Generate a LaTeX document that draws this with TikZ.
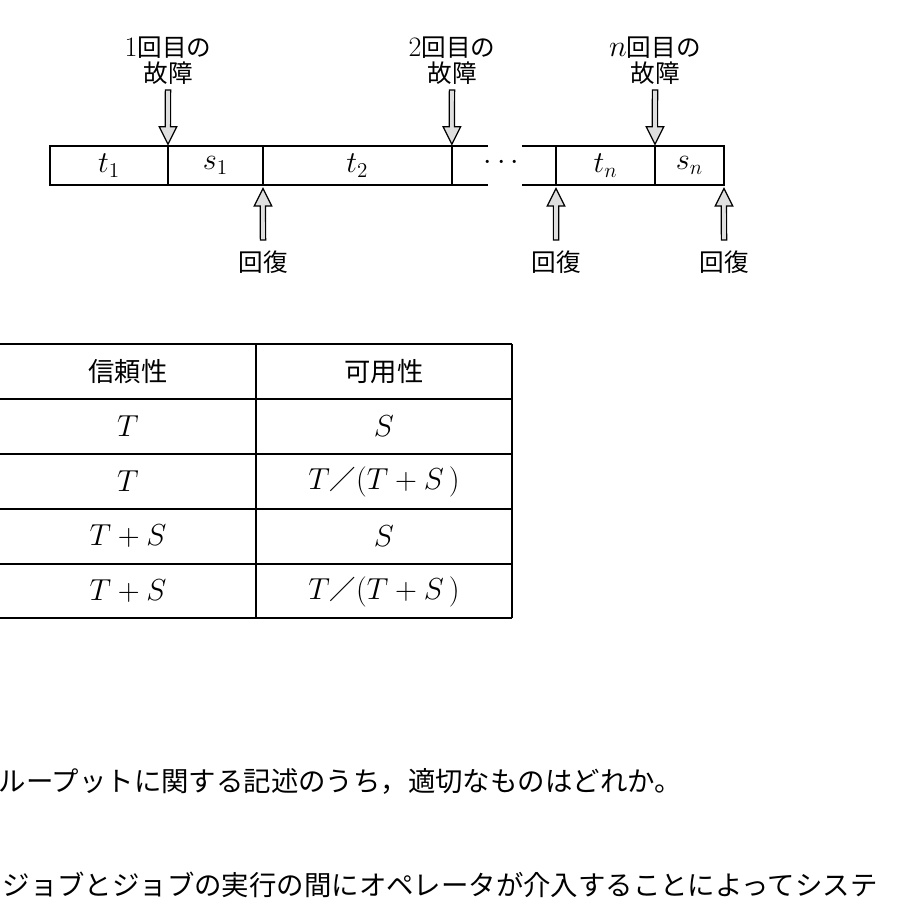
\documentclass[tikz,border=0pt]{standalone}
\usepackage{amsmath}
\usepackage{fontspec}
\usepackage{tikz}
\usetikzlibrary{positioning}
\newfontfamily\jpfont{Noto Sans CJK JP}
\newcommand{\jpslash}{{\jpfont\fontsize{15}{18}\selectfont ／}}

\begin{document}
\begin{tikzpicture}[x=0.02cm, y=-0.02cm, thick,
    seg/.style={draw, line width=1pt, outer sep=0pt, minimum height=0.78cm, font=\fontsize{17.28}{20}\selectfont},
    lbl/.style={font=\jpfont\fontsize{14}{14.5}\selectfont, align=center, inner xsep=0pt},
    hollow/.style 2 args={draw=black, fill=gray!25, line width=0.7pt, to path={
        ([xshift=-1.5pt]\tikztostart) -- ([xshift=-1.5pt, yshift=#1+#2]\tikztotarget)
        -- ([xshift=-5pt, yshift=#1+#2]\tikztotarget) -- ([yshift=#2]\tikztotarget)
        -- ([xshift=5pt, yshift=#1+#2]\tikztotarget) -- ([xshift=1.5pt, yshift=#1+#2]\tikztotarget)
        -- ([xshift=1.5pt]\tikztostart) -- cycle}},
    fault/.style={hollow={10pt}{1pt}},
    repair/.style={hollow={-10pt}{-2pt}},
    head/.style={font=\jpfont\fontsize{15}{18}\selectfont},
    cell/.style={font=\fontsize{17.28}{20}\selectfont},
    body/.style={font=\jpfont\fontsize{15.6}{18}\selectfont, anchor=west, inner sep=0pt}]
    \useasboundingbox (0,0) rectangle (900,900);
    \clip (0,0) rectangle (900,900);

    % time line
    \node[seg, minimum width=2.36cm, anchor=west] (t1) at (50,165.5) {$t_1$};
    \node[seg, minimum width=1.9cm, right=0pt of t1] (s1) {$s_1$};
    \node[seg, minimum width=3.78cm, right=0pt of s1] (t2) {$t_2$};
    \draw[line width=1pt] (t2.north east) -- ++(36,0) (t2.south east) -- ++(36,0);
    \node[font=\fontsize{17.28}{20}\selectfont] (dots) at (504,163) {$\cdots$};
    \node[seg, minimum width=1.98cm, anchor=west] (tn) at (556,165.5) {$t_n$};
    \node[seg, minimum width=1.38cm, right=0pt of tn] (sn) {$s_n$};
    \draw[line width=1pt] (tn.north west) -- ++(-34,0) (tn.south west) -- ++(-34,0);

    % failures and repairs
    \node[lbl, inner ysep=3pt, anchor=south] (f1) at (168,90) {{\rmfamily\fontsize{16}{14.5}\selectfont 1}回目の\\故障};
    \node[lbl, inner ysep=3pt, anchor=south] (f2) at (452,90) {{\rmfamily\fontsize{16}{14.5}\selectfont 2}回目の\\故障};
    \node[lbl, inner ysep=3pt, anchor=south] (fn) at (655,90) {{\fontsize{16}{14.5}\selectfont$n$}回目の\\故障};
    \node[lbl, inner ysep=6pt, anchor=north] (r1) at (263,240) {回復};
    \node[lbl, inner ysep=6pt, anchor=north] (r2) at (556,240) {回復};
    \node[lbl, inner ysep=6pt, anchor=north] (rn) at (724,240) {回復};

    \path (f1.south) edge[fault] (s1.north west)
          (f2.south) edge[fault] (t2.north east)
          (fn.south) edge[fault] (sn.north west)
          (r1.north) edge[repair] (t2.south west)
          (r2.north) edge[repair] (tn.south west)
          (rn.north) edge[repair] (sn.south east);

    % table
    \foreach \y in {344,399,454,509,564,618}
        \draw[line width=0.9pt] (0,\y) -- (512,\y);
    \foreach \x in {256,512}
        \draw[line width=0.9pt] (\x,344) -- (\x,618);
    \node[head] (rel) at (128,371.5) {信頼性};
    \node[head] (ava) at (384,371.5) {可用性};
    \foreach \rel/\ava [count=\i] in {{$T$}/{$S$}, {$T$}/{$T$\jpslash$(T+S\,)$},
                                      {$T+S$}/{$S$}, {$T+S$}/{$T$\jpslash$(T+S\,)$}}
    {
        \node[cell] (rel\i) at (128,371.5+55*\i) {\rel};
        \node[cell] (ava\i) at (384,371.5+55*\i) {\ava};
    }

    % question text
    \node[body] (q) at (-2,781) {ループットに関する記述のうち，適切なものはどれか。};
    \node[body] (c) at (2,885) {ジョブとジョブの実行の間にオペレータが介入することによってシステ};
\end{tikzpicture}
\end{document}
